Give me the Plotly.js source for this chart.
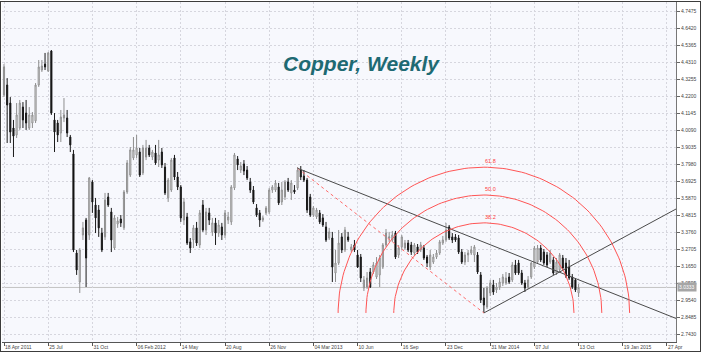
<!DOCTYPE html>
<html><head><meta charset="utf-8">
<script src="https://cdn.plot.ly/plotly-3.0.1.min.js"></script>
<style>
html,body{margin:0;padding:0;background:#fff;}
#wrap{position:relative;width:702px;height:353px;overflow:hidden;}
#chart{width:702px;height:353px;}
#frame{position:absolute;left:0;top:1px;width:701px;height:351px;box-sizing:border-box;border:1px solid #3c3c3c;pointer-events:none;}
</style></head><body>
<div id="wrap"><div id="chart"></div><div id="frame"></div></div>
<script>
// ---- data (weekly bars, first bar = week of 11 Apr 2011) ----
const firstWeek = '2011-04-11';
const open = [
4.520,4.228,4.290,4.178,4.023,3.980,4.023,4.153,4.116,4.023,
4.054,4.067,4.290,4.383,4.420,4.377,4.501,4.073,4.054,3.992,
4.085,4.085,3.967,3.862,3.247,3.067,3.359,3.452,3.359,3.688,
3.545,3.514,3.371,3.347,3.595,3.502,3.278,3.427,3.458,3.403,
3.626,3.731,3.837,3.856,3.874,3.744,3.843,3.899,3.843,3.868,
3.824,3.874,3.781,3.589,3.638,3.837,3.719,3.657,3.452,3.471,
3.316,3.328,3.403,3.297,3.545,3.390,3.496,3.378,3.434,3.371,
3.409,3.359,3.452,3.440,3.651,3.831,3.762,3.800,3.762,3.688,
3.638,3.527,3.496,3.452,3.496,3.502,3.638,3.638,3.657,3.564,
3.595,3.688,3.620,3.638,3.651,3.762,3.725,3.700,3.595,3.483,
3.471,3.496,3.465,3.409,3.340,3.340,3.123,3.185,3.347,3.266,
3.347,3.266,3.297,3.235,3.222,3.030,3.036,3.129,3.129,3.098,
3.111,3.160,3.297,3.340,3.328,3.371,3.235,3.285,3.278,3.309,
3.297,3.247,3.285,3.266,3.278,3.222,3.160,3.191,3.222,3.247,
3.309,3.328,3.409,3.347,3.347,3.340,3.253,3.191,3.235,3.247,
3.235,3.235,3.111,2.968,2.912,2.999,3.049,3.018,3.036,3.061,
3.061,3.098,3.080,3.173,3.185,3.123,3.061,3.036,3.098,3.160,
3.191,3.278,3.253,3.235,3.191,3.204,3.123,3.142,3.216,3.185,
3.160,3.098,3.080,2.999];
const high = [
4.538,4.420,4.333,4.215,4.073,4.178,4.197,4.184,4.197,4.153,
4.122,4.302,4.445,4.445,4.489,4.495,4.507,4.116,4.073,4.135,
4.209,4.135,3.980,3.887,3.266,3.278,3.440,3.465,3.719,3.700,
3.589,3.545,3.403,3.620,3.620,3.527,3.483,3.471,3.483,3.638,
3.824,3.905,3.967,3.980,3.899,3.918,3.949,3.918,3.887,3.918,
3.949,3.899,3.806,3.713,3.837,3.856,3.750,3.669,3.589,3.496,
3.340,3.421,3.440,3.514,3.576,3.527,3.527,3.465,3.465,3.452,
3.434,3.514,3.502,3.669,3.868,3.849,3.812,3.824,3.787,3.713,
3.663,3.551,3.514,3.477,3.539,3.651,3.669,3.700,3.682,3.688,
3.700,3.713,3.700,3.669,3.781,3.787,3.762,3.713,3.614,3.539,
3.527,3.514,3.489,3.440,3.403,3.378,3.266,3.390,3.371,3.409,
3.378,3.303,3.328,3.266,3.241,3.104,3.129,3.154,3.191,3.222,
3.235,3.309,3.396,3.378,3.384,3.384,3.297,3.359,3.328,3.328,
3.316,3.309,3.303,3.316,3.297,3.235,3.266,3.241,3.266,3.328,
3.353,3.434,3.421,3.371,3.365,3.359,3.272,3.253,3.266,3.291,
3.297,3.253,3.129,3.030,3.042,3.080,3.080,3.061,3.092,3.117,
3.129,3.123,3.191,3.204,3.204,3.142,3.080,3.104,3.191,3.291,
3.297,3.297,3.272,3.253,3.266,3.222,3.216,3.247,3.235,3.216,
3.204,3.117,3.092,3.055];
const low = [
4.228,4.215,3.930,3.930,3.843,3.961,4.011,4.023,4.011,4.011,
4.023,4.054,4.278,4.371,4.383,4.371,4.104,3.874,3.936,3.936,
4.060,3.967,3.874,3.253,3.111,2.999,3.328,3.036,3.328,3.496,
3.371,3.347,3.253,3.328,3.533,3.253,3.266,3.403,3.409,3.390,
3.614,3.719,3.824,3.837,3.719,3.731,3.824,3.843,3.824,3.794,
3.781,3.775,3.607,3.564,3.626,3.700,3.638,3.440,3.421,3.297,
3.247,3.278,3.291,3.278,3.378,3.359,3.421,3.353,3.297,3.347,
3.328,3.340,3.427,3.421,3.638,3.762,3.744,3.731,3.700,3.620,
3.551,3.471,3.409,3.440,3.483,3.489,3.620,3.626,3.545,3.545,
3.576,3.626,3.576,3.614,3.638,3.700,3.688,3.496,3.471,3.471,
3.458,3.427,3.409,3.316,3.328,3.067,3.067,3.173,3.247,3.253,
3.316,3.253,3.253,3.154,3.067,3.011,3.024,3.030,3.117,3.086,
3.036,3.148,3.285,3.316,3.316,3.210,3.216,3.266,3.266,3.253,
3.235,3.229,3.241,3.253,3.204,3.160,3.142,3.179,3.210,3.235,
3.297,3.316,3.328,3.309,3.316,3.241,3.179,3.173,3.191,3.235,
3.191,3.117,2.937,2.875,2.900,2.980,2.987,2.999,3.018,3.042,
3.049,3.055,3.067,3.111,3.111,3.049,3.005,3.024,3.086,3.148,
3.179,3.191,3.173,3.160,3.179,3.111,3.111,3.129,3.142,3.092,
3.080,3.024,3.005,2.974];
const close = [
4.240,4.402,4.166,3.998,3.973,4.104,4.178,4.073,4.054,4.104,
4.104,4.290,4.402,4.408,4.402,4.489,4.116,3.998,3.980,4.091,
4.104,3.992,3.918,3.266,3.142,3.266,3.403,3.216,3.713,3.564,
3.465,3.403,3.266,3.576,3.545,3.328,3.465,3.446,3.434,3.626,
3.806,3.887,3.887,3.899,3.731,3.899,3.899,3.856,3.874,3.806,
3.856,3.794,3.620,3.700,3.824,3.719,3.657,3.465,3.564,3.309,
3.278,3.403,3.309,3.496,3.390,3.502,3.452,3.434,3.371,3.421,
3.359,3.496,3.471,3.657,3.856,3.794,3.787,3.756,3.713,3.638,
3.564,3.483,3.452,3.465,3.527,3.638,3.657,3.682,3.558,3.638,
3.688,3.638,3.682,3.626,3.762,3.719,3.700,3.514,3.483,3.527,
3.514,3.440,3.421,3.328,3.378,3.160,3.185,3.309,3.266,3.390,
3.328,3.285,3.266,3.160,3.092,3.080,3.092,3.036,3.173,3.185,
3.216,3.297,3.371,3.347,3.359,3.222,3.278,3.347,3.309,3.266,
3.253,3.297,3.253,3.297,3.216,3.185,3.235,3.222,3.247,3.316,
3.328,3.390,3.340,3.328,3.328,3.253,3.191,3.235,3.247,3.266,
3.285,3.129,2.956,2.924,3.030,3.061,3.005,3.036,3.067,3.098,
3.092,3.067,3.173,3.123,3.123,3.061,3.030,3.080,3.185,3.278,
3.278,3.204,3.185,3.173,3.247,3.123,3.191,3.235,3.154,3.104,
3.092,3.036,3.018,3.0333];
const lastPrice = 3.0333;

const xTickDates = ['2011-04-18','2011-07-25','2011-10-31','2012-02-06','2012-05-14','2012-08-20','2012-11-26','2013-03-04','2013-06-10','2013-09-16','2013-12-23','2014-03-31','2014-07-07','2014-10-13','2015-01-19','2015-04-27'];
const xTickLabels = ['18 Apr 2011','25 Jul','31 Oct','06 Feb 2012','14 May','20 Aug','26 Nov','04 Mar 2013','10 Jun','16 Sep','23 Dec','31 Mar 2014','07 Jul','13 Oct','19 Jan 2015','27 Apr'];
const yTickVals = [2.7430,2.8485,2.9540,3.0595,3.1650,3.2705,3.3760,3.4815,3.5870,3.6925,3.7980,3.9035,4.0090,4.1145,4.2200,4.3255,4.4310,4.5365,4.6420,4.7475];

// analysis objects (anchor points)
const swingHigh = {x:'2013-01-28', y:3.773};
const swingLow  = {x:'2014-03-17', y:2.875};
const downTrend = {x:['2013-01-28','2015-05-16 23:30'], y:[3.773, 2.841]};
const upTrend   = {x:['2014-03-17','2015-05-16 23:30'], y:[2.875, 3.520]};
const fibLevels = [0.382, 0.5, 0.618];
const fibLabels = ['38.2','50.0','61.8'];

// ---- layout constants ----
const W = 702, H = 353;
const M = {l:2, r:26, t:2, b:11};
const xRange = ['2011-04-13 13:35', '2015-05-16 23:30'];
const yRange = [2.6947, 4.8052];

const ms = s => Date.parse(s.replace(' ','T') + (s.length>10?':00Z':'T00:00:00Z'));
const weeks = open.map((_,i)=> new Date(ms(firstWeek) + i*7*86400000).toISOString().slice(0,10));

const plotW = W - M.l - M.r, plotH = H - M.t - M.b;
const pxPerMs = plotW / (ms(xRange[1]) - ms(xRange[0]));
const pxPerP = plotH / (yRange[1] - yRange[0]);
const dxPx = (ms(swingLow.x) - ms(swingHigh.x)) * pxPerMs;
const dyPx = (swingHigh.y - swingLow.y) * pxPerP;
const dist = Math.hypot(dxPx, dyPx);

const traces = [{
  type:'candlestick', x:weeks, open:open, high:high, low:low, close:close,
  increasing:{line:{color:'#8e8e8e', width:1}, fillcolor:'#ffffff'},
  decreasing:{line:{color:'#1a1a1a', width:1}, fillcolor:'#000000'},
  whiskerwidth:0, hoverinfo:'skip', showlegend:false
},{
  type:'scatter', mode:'lines', x:[swingHigh.x, swingLow.x], y:[swingHigh.y, swingLow.y],
  line:{color:'#ff6a6a', width:1, dash:'3px,3px'}, hoverinfo:'skip', showlegend:false
},{
  type:'scatter', mode:'lines', x:downTrend.x, y:downTrend.y,
  line:{color:'#4a4a4a', width:1}, hoverinfo:'skip', showlegend:false
},{
  type:'scatter', mode:'lines', x:upTrend.x, y:upTrend.y,
  line:{color:'#4a4a4a', width:1}, hoverinfo:'skip', showlegend:false
}];

const annotations = [];
fibLevels.forEach((f,j)=>{
  const r = f*dist, xs=[], ys=[];
  for (let i=0;i<=120;i++){
    const t = Math.PI*i/120;
    xs.push(new Date(ms(swingLow.x) + r*Math.cos(t)/pxPerMs).toISOString());
    ys.push(swingLow.y + r*Math.sin(t)/pxPerP);
  }
  traces.push({type:'scatter', mode:'lines', x:xs, y:ys, line:{color:'#ff5555', width:1},
    hoverinfo:'skip', showlegend:false});
  annotations.push({x:swingLow.x, y:swingLow.y + r/pxPerP, xref:'x', yref:'y', text:fibLabels[j],
    showarrow:false, xanchor:'left', yanchor:'bottom', xshift:-1, yshift:1,
    font:{family:'Liberation Sans, Arial, sans-serif', size:5.5, color:'#ff4040'}});
});

annotations.push({xref:'paper', yref:'paper', x:(361-M.l)/plotW, y:(H-M.b-63.5)/plotH,
  text:'<b><i>Copper, Weekly</i></b>', showarrow:false, xanchor:'center', yanchor:'middle',
  font:{family:'Liberation Sans, Arial, sans-serif', size:21, color:'#1e6a73'}});
annotations.push({xref:'paper', yref:'y', x:1, y:lastPrice, text:lastPrice.toFixed(4),
  showarrow:false, xanchor:'left', yanchor:'middle', xshift:1, bgcolor:'#a6a6a6', borderpad:1,
  font:{family:'Liberation Sans, Arial, sans-serif', size:5, color:'#ffffff'}});

const tickFont = {family:'Liberation Sans, Arial, sans-serif', size:5, color:'#444'};
const layout = {
  width:W, height:H, margin:M,
  paper_bgcolor:'#ffffff', plot_bgcolor:'#f7f8fd',
  showlegend:false, hovermode:false, boxgap:0.5,
  xaxis:{type:'date', range:xRange, rangeslider:{visible:false},
    tickmode:'array', tickvals:xTickDates, ticktext:xTickLabels,
    ticklabelposition:'outside right', ticks:'outside', ticklen:3, tickcolor:'#555',
    showgrid:true, gridcolor:'#d6d6de', griddash:'2px,2px', gridwidth:1,
    showline:true, linecolor:'#555', linewidth:1, zeroline:false, tickfont:tickFont, fixedrange:true},
  yaxis:{side:'right', range:yRange, tickmode:'array', tickvals:yTickVals,
    ticktext:yTickVals.map(v=>v.toFixed(4)), ticks:'outside', ticklen:3, tickcolor:'#666',
    showgrid:true, gridcolor:'#d6d6de', griddash:'2px,2px', gridwidth:1,
    showline:true, linecolor:'#777', linewidth:1, zeroline:false, tickfont:tickFont, fixedrange:true},
  shapes:[{type:'line', xref:'paper', yref:'y', x0:0, x1:1, y0:lastPrice, y1:lastPrice,
    line:{color:'#c2c2c2', width:1}, layer:'below'}],
  annotations:annotations
};
Plotly.newPlot('chart', traces, layout, {staticPlot:true, displayModeBar:false});
</script>
</body></html>
